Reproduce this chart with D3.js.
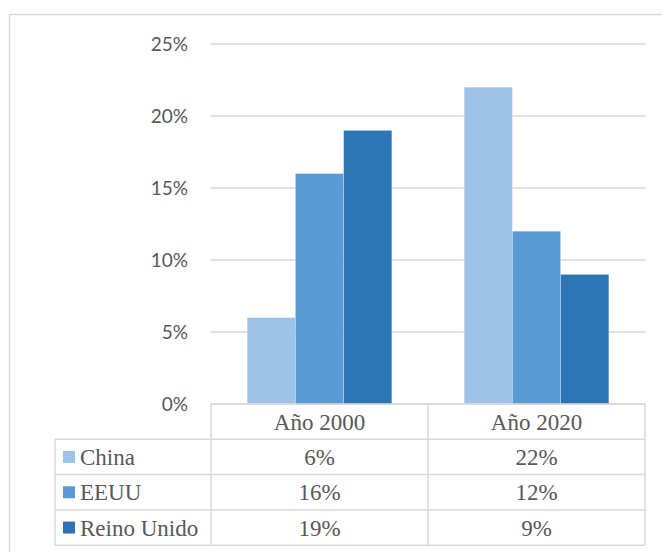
<!DOCTYPE html>
<html>
<head>
<meta charset="utf-8">
<script src="https://cdn.jsdelivr.net/npm/d3@7"></script>
<style>
  body { margin: 0; background: #fff; }
  svg { display: block; }
</style>
</head>
<body>
<div id="chart"></div>
<script>
// data
var categories = ["Año 2000", "Año 2020"];
var seriesNames = ["China", "EEUU", "Reino Unido"];
var china = [0.06, 0.22];
var eeuu = [0.16, 0.12];
var reinoUnido = [0.19, 0.09];
var yTicks = [0, 0.05, 0.10, 0.15, 0.20, 0.25];
var seriesColors = ["#9dc3e6", "#5b9bd5", "#2e75b6"];

var seriesValues = [china, eeuu, reinoUnido];

var svgWidth = 662;
var svgHeight = 552;

var plot = { left: 211, right: 645, top: 44, bottom: 404 };
var tableLeft = 55;
var rowH = 35.3;
var grey = "#d9d9d9";
var textColor = "#595959";

var svg = d3.select("#chart")
  .append("svg")
  .attr("width", svgWidth)
  .attr("height", svgHeight);

// outer chart border
svg.append("rect")
  .attr("x", 9.5)
  .attr("y", 14.5)
  .attr("width", 700)
  .attr("height", 600)
  .attr("fill", "none")
  .attr("stroke", grey)
  .attr("stroke-width", 1.5);

// scales
var x0 = d3.scaleBand()
  .domain(categories)
  .range([plot.left, plot.right])
  .padding(0);

var x1 = d3.scaleBand()
  .domain(seriesNames)
  .range([0, x0.bandwidth()])
  .paddingInner(0)
  .paddingOuter(0.75);

var y = d3.scaleLinear()
  .domain([0, 0.25])
  .range([plot.bottom, plot.top]);

// gridlines
svg.append("g")
  .selectAll("line")
  .data(yTicks)
  .enter()
  .append("line")
  .attr("x1", plot.left)
  .attr("x2", plot.right)
  .attr("y1", d => y(d))
  .attr("y2", d => y(d))
  .attr("stroke", grey)
  .attr("stroke-width", 1.5);

// y axis labels
var yAxis = d3.axisLeft(y)
  .tickValues(yTicks)
  .tickFormat(d3.format(".0%"))
  .tickSize(0)
  .tickPadding(23);

var yAxisG = svg.append("g")
  .attr("transform", `translate(${plot.left}, 0)`)
  .call(yAxis);
yAxisG.select(".domain").remove();
yAxisG.selectAll("text")
  .attr("font-family", "Lato, 'Liberation Sans', sans-serif")
  .attr("font-size", "19px")
  .attr("fill", textColor);

// bars
var groups = svg.append("g")
  .selectAll("g")
  .data(seriesNames)
  .enter()
  .append("g")
  .attr("fill", (d, i) => seriesColors[i]);

groups.selectAll("rect")
  .data((s, i) => categories.map((c, j) => ({ cat: c, name: s, value: seriesValues[i][j] })))
  .enter()
  .append("rect")
  .attr("x", d => x0(d.cat) + x1(d.name))
  .attr("y", d => y(d.value))
  .attr("width", x1.bandwidth())
  .attr("height", d => y(0) - y(d.value))
  .attr("stroke", "#ffffff")
  .attr("stroke-opacity", 0.35)
  .attr("stroke-width", 0.8);

// data table
var table = svg.append("g");
var tableTop = plot.bottom;

// horizontal lines
var hLines = d3.range(seriesNames.length + 2);
table.selectAll(".hline")
  .data(hLines)
  .enter()
  .append("line")
  .attr("class", "hline")
  .attr("x1", d => d === 0 ? plot.left : tableLeft)
  .attr("x2", plot.right)
  .attr("y1", d => tableTop + d * rowH)
  .attr("y2", d => tableTop + d * rowH)
  .attr("stroke", grey)
  .attr("stroke-width", 1.5);

// vertical lines
var tableBottom = tableTop + (seriesNames.length + 1) * rowH;
var vx = [plot.left].concat(categories.map(c => x0(c) + x0.bandwidth()));
table.selectAll(".vline")
  .data(vx)
  .enter()
  .append("line")
  .attr("class", "vline")
  .attr("x1", d => d)
  .attr("x2", d => d)
  .attr("y1", tableTop)
  .attr("y2", tableBottom)
  .attr("stroke", grey)
  .attr("stroke-width", 1.5);

table.append("line")
  .attr("x1", tableLeft)
  .attr("x2", tableLeft)
  .attr("y1", tableTop + rowH)
  .attr("y2", tableBottom)
  .attr("stroke", grey)
  .attr("stroke-width", 1.5);

var serif = "'Liberation Serif', 'Times New Roman', serif";

// category header
table.selectAll(".cat")
  .data(categories)
  .enter()
  .append("text")
  .attr("class", "cat")
  .attr("x", d => x0(d) + x0.bandwidth() / 2)
  .attr("y", tableTop + rowH / 2)
  .attr("dy", "0.35em")
  .attr("text-anchor", "middle")
  .attr("font-family", serif)
  .attr("font-size", "23px")
  .attr("fill", textColor)
  .text(d => d);

// rows
var rows = table.selectAll(".row")
  .data(seriesNames)
  .enter()
  .append("g")
  .attr("class", "row")
  .attr("transform", (d, i) => `translate(0, ${tableTop + (i + 1) * rowH})`);

rows.append("rect")
  .attr("x", 63)
  .attr("y", rowH / 2 - 6)
  .attr("width", 12)
  .attr("height", 12)
  .attr("fill", (d, i) => seriesColors[i]);

rows.append("text")
  .attr("x", 80)
  .attr("y", rowH / 2)
  .attr("dy", "0.35em")
  .attr("font-family", serif)
  .attr("font-size", "23px")
  .attr("fill", textColor)
  .text(d => d);

rows.selectAll(".val")
  .data((s, i) => categories.map((c, j) => ({ cat: c, value: seriesValues[i][j] })))
  .enter()
  .append("text")
  .attr("class", "val")
  .attr("x", d => x0(d.cat) + x0.bandwidth() / 2)
  .attr("y", rowH / 2)
  .attr("dy", "0.35em")
  .attr("text-anchor", "middle")
  .attr("font-family", serif)
  .attr("font-size", "23px")
  .attr("fill", textColor)
  .text(d => d3.format(".0%")(d.value));
</script>
</body>
</html>
